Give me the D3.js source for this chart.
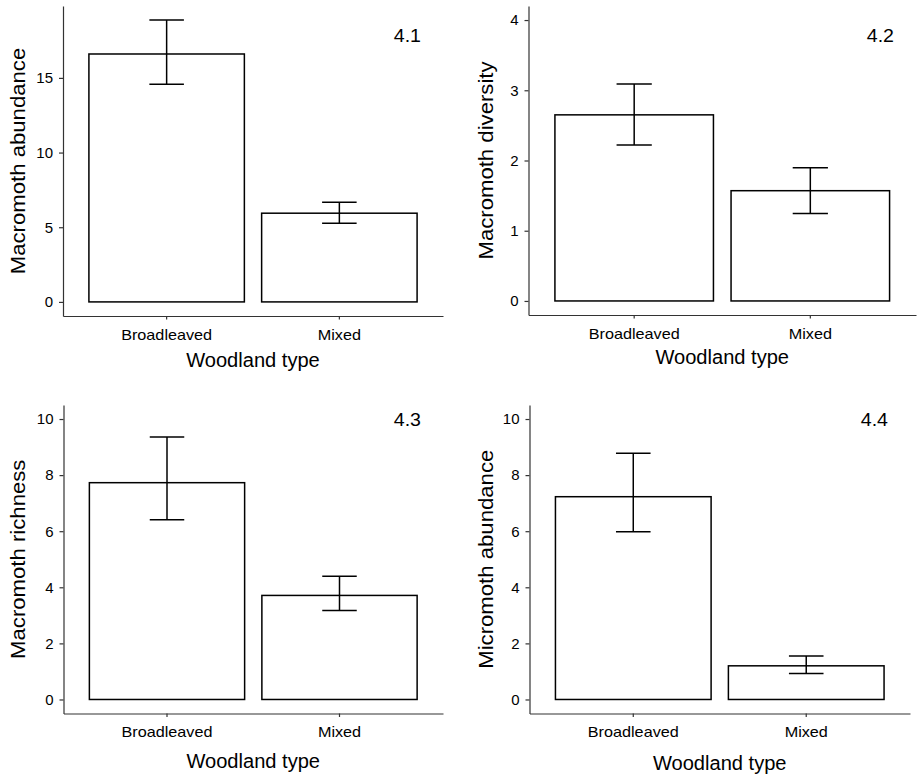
<!DOCTYPE html>
<html>
<head>
<meta charset="utf-8">
<script src="https://cdn.jsdelivr.net/npm/d3@7"></script>
<style>
  html, body { margin: 0; padding: 0; background: #fff; }
  svg { display: block; }
  text { font-family: "Liberation Sans", Arial, sans-serif; fill: #000; }
</style>
</head>
<body>
<svg id="chart" width="918" height="777"></svg>
<script>
// --- Data ---
const woodland = ["Broadleaved", "Mixed"];

const abundanceMean = [16.6, 5.94];
const abundanceLow  = [14.58, 5.27];
const abundanceHigh = [18.87, 6.68];

const diversityMean = [2.65, 1.57];
const diversityLow  = [2.22, 1.245];
const diversityHigh = [3.09, 1.895];

const richnessMean = [7.73, 3.71];
const richnessLow  = [6.41, 3.17];
const richnessHigh = [9.36, 4.39];

const microMean = [7.23, 1.20];
const microLow  = [5.98, 0.93];
const microHigh = [8.78, 1.55];

const abundanceTicks = [0, 5, 10, 15];
const diversityTicks = [0, 1, 2, 3, 4];
const richnessTicks  = [0, 2, 4, 6, 8, 10];
const microTicks     = [0, 2, 4, 6, 8, 10];

const panelTags   = ["4.1", "4.2", "4.3", "4.4"];
const yTitles     = ["Macromoth abundance", "Macromoth diversity", "Macromoth richness", "Micromoth abundance"];
const xTitle      = "Woodland type";
const yLimits     = [null, 4, 10, 10];   // null = fit to data
const tagValues   = [17.4, 3.69, 9.76, 9.76];

// --- Layout (pixels) ---
const layout = [
  { left: 63,    right: 443, top: 6,   bottom: 316,   titleY: 367, yTitleX: 25 },
  { left: 528.5, right: 916, top: 6,   bottom: 315,   titleY: 364, yTitleX: 493 },
  { left: 63.5,  right: 443, top: 405, bottom: 713.5, titleY: 768, yTitleX: 25 },
  { left: 529.5, right: 910, top: 405, bottom: 713.5, titleY: 770, yTitleX: 493 }
];

const series = [
  { mean: abundanceMean, low: abundanceLow, high: abundanceHigh, ticks: abundanceTicks },
  { mean: diversityMean, low: diversityLow, high: diversityHigh, ticks: diversityTicks },
  { mean: richnessMean,  low: richnessLow,  high: richnessHigh,  ticks: richnessTicks },
  { mean: microMean,     low: microLow,     high: microHigh,     ticks: microTicks }
];

// stretch text along its baseline (reference glyphs are a bit wider than Arial)
function stretch(sel, k) {
  sel.each(function() {
    const w = this.getComputedTextLength();
    d3.select(this).attr("textLength", w * k).attr("lengthAdjust", "spacingAndGlyphs");
  });
}

const svg = d3.select("#chart");
const FONT = "'Liberation Sans', Arial, sans-serif";

series.forEach((s, i) => {
  const L = layout[i];
  const g = svg.append("g");

  // discrete x: 2 bars, width 0.9, 0.6 expansion each side
  const x = d3.scaleBand()
      .domain(woodland)
      .range([L.left, L.right])
      .paddingInner(0.1)
      .paddingOuter(0.15);

  const top = yLimits[i] === null ? d3.max(s.high) : yLimits[i];
  const pad = top * 0.05;
  const y = d3.scaleLinear()
      .domain([-pad, top + pad])
      .range([L.bottom, L.top]);

  const rows = woodland.map((w, j) => ({ w: w, m: s.mean[j], lo: s.low[j], hi: s.high[j] }));
  const cx = d => x(d.w) + x.bandwidth() / 2;

  // bars
  g.selectAll("rect.bar")
    .data(rows)
    .join("rect")
      .attr("class", "bar")
      .attr("x", d => x(d.w))
      .attr("width", x.bandwidth())
      .attr("y", d => y(d.m))
      .attr("height", d => y(0) - y(d.m))
      .attr("fill", "#fff")
      .attr("stroke", "#000")
      .attr("stroke-width", 1.5);

  // error bars
  const capW = x.step() * 0.2;
  const eb = g.selectAll("g.err")
    .data(rows)
    .join("g")
      .attr("class", "err")
      .attr("stroke", "#000")
      .attr("stroke-width", 1.5);
  eb.append("line")
      .attr("x1", cx).attr("x2", cx)
      .attr("y1", d => y(d.lo))
      .attr("y2", d => y(d.hi));
  eb.append("line")
      .attr("x1", d => cx(d) - capW / 2)
      .attr("x2", d => cx(d) + capW / 2)
      .attr("y1", d => y(d.hi))
      .attr("y2", d => y(d.hi));
  eb.append("line")
      .attr("x1", d => cx(d) - capW / 2)
      .attr("x2", d => cx(d) + capW / 2)
      .attr("y1", d => y(d.lo))
      .attr("y2", d => y(d.lo));

  // y axis
  const yAxis = g.append("g")
      .attr("transform", `translate(${L.left},0)`)
      .call(d3.axisLeft(y).tickValues(s.ticks).tickFormat(d3.format("d"))
        .tickSize(4).tickPadding(6).tickSizeOuter(0));
  yAxis.select(".domain").attr("stroke", "#333").attr("stroke-width", 1.2);
  yAxis.selectAll(".tick line").attr("stroke", "#333").attr("stroke-width", 1.2);
  yAxis.selectAll(".tick text")
      .attr("fill", "#000")
      .style("font-size", "15px")
      .style("font-family", FONT);

  // x axis
  const xAxis = g.append("g")
      .attr("transform", `translate(0,${L.bottom})`)
      .call(d3.axisBottom(x).tickSize(3.5).tickSizeOuter(0));
  xAxis.select(".domain").attr("stroke", "#333").attr("stroke-width", 1.2);
  xAxis.selectAll(".tick line").attr("stroke", "#333").attr("stroke-width", 1.2);
  xAxis.selectAll(".tick text")
      .attr("fill", "#000")
      .attr("y", 23.5)
      .attr("dy", 0)
      .style("font-size", "15px")
      .style("font-family", FONT)
      .call(stretch, 1.08);

  // axis titles
  g.append("text")
      .attr("x", (L.left + L.right) / 2)
      .attr("y", L.titleY)
      .attr("text-anchor", "middle")
      .style("font-size", "19.5px")
      .text(xTitle)
      .call(stretch, 1.03);

  g.append("text")
      .attr("transform", `translate(${L.yTitleX},${(L.top + L.bottom) / 2}) rotate(-90)`)
      .attr("text-anchor", "middle")
      .style("font-size", "20.5px")
      .text(yTitles[i])
      .call(stretch, 1.08);

  // panel tag
  g.append("text")
      .attr("x", L.right - 22)
      .attr("y", y(tagValues[i]))
      .attr("text-anchor", "end")
      .style("font-size", "19px")
      .text(panelTags[i])
      .call(stretch, 1.03);
});
</script>
</body>
</html>
